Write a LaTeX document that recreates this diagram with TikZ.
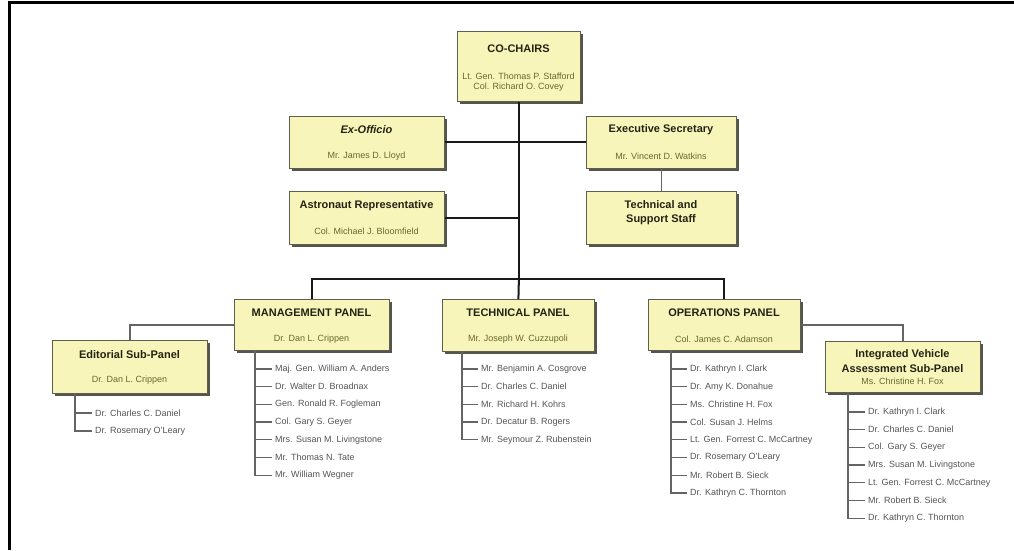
\documentclass[tikz,border=0pt]{standalone}
\usepackage{fontspec}
\setmainfont{Liberation Sans}
\usetikzlibrary{shadows}
\definecolor{boxfill}{RGB}{248,245,186}
\definecolor{boxline}{RGB}{95,95,80}
\definecolor{shadowc}{RGB}{85,85,75}
\definecolor{titlec}{RGB}{35,35,20}
\definecolor{namec}{RGB}{105,105,45}
\definecolor{itemc}{RGB}{85,85,85}
\definecolor{mainc}{RGB}{25,25,25}
\definecolor{subc}{RGB}{100,100,100}
\begin{document}
\begin{tikzpicture}[x=1pt,y=-1pt,
  box/.style={draw=boxline, line width=0.8pt, fill=boxfill, anchor=north west, inner sep=0pt,
    drop shadow={shadow xshift=2.5pt, shadow yshift=-2.5pt, fill=shadowc, opacity=1}},
  ttl/.style={font=\fontsize{11}{14}\selectfont\bfseries, text=titlec, align=center, inner sep=0pt},
  nm/.style={font=\fontsize{9}{11}\selectfont, text=namec, align=center, inner sep=0pt},
  item/.style={font=\fontsize{9}{11}\selectfont, text=itemc, anchor=west, inner sep=3pt},
  mainline/.style={draw=mainc, line width=2pt},
  subline/.style={draw=subc, line width=1.3pt}]
\useasboundingbox (0,0) rectangle (1014,550);
\fill[white] (0,0) rectangle (1014,550);
\draw[line width=3pt] (9,550) -- (9,2.5) -- (1014,2.5);

% boxes
\node[box, minimum width=123pt, minimum height=70pt] (cc) at (457,31) {};
\node[box, minimum width=155pt, minimum height=52pt] (eo) at (289,116) {};
\node[box, minimum width=150pt, minimum height=52pt] (es) at (586,116) {};
\node[box, minimum width=155pt, minimum height=53pt] (ar) at (289,191) {};
\node[box, minimum width=150pt, minimum height=53pt] (ts) at (586,191) {};
\node[box, minimum width=155pt, minimum height=51pt] (mp) at (234,299) {};
\node[box, minimum width=152pt, minimum height=52pt] (tp) at (442,299) {};
\node[box, minimum width=152pt, minimum height=51pt] (op) at (648,299) {};
\node[box, minimum width=155pt, minimum height=53pt] (ed) at (52,340) {};
\node[box, minimum width=155pt, minimum height=51pt] (iv) at (825,341) {};

% texts
\node[ttl] (cc-t) at (518.5,49) {CO-CHAIRS};
\node[nm] (cc-n1) at (518.5,76) {Lt. Gen. Thomas P. Stafford};
\node[nm] (cc-n2) at (518.5,87) {Col. Richard O. Covey};
\node[ttl] (eo-t) at (366.5,130) {\itshape Ex-Officio};
\node[nm] (eo-n) at (366.5,156) {Mr. James D. Lloyd};
\node[ttl] (es-t) at (661,130) {Executive Secretary};
\node[nm] (es-n) at (661,156) {Mr. Vincent D. Watkins};
\node[ttl] (ar-t) at (366.5,206) {Astronaut Representative};
\node[nm] (ar-n) at (366.5,231) {Col. Michael J. Bloomfield};
\node[ttl] (ts-t) at (661,213) {Technical and\\Support Staff};
\node[ttl] (mp-t) at (311.5,313) {MANAGEMENT PANEL};
\node[nm] (mp-n) at (311.5,339) {Dr. Dan L. Crippen};
\node[ttl] (tp-t) at (518,313) {TECHNICAL PANEL};
\node[nm] (tp-n) at (518,339) {Mr. Joseph W. Cuzzupoli};
\node[ttl] (op-t) at (724,313) {OPERATIONS PANEL};
\node[nm] (op-n) at (724,339) {Col. James C. Adamson};
\node[ttl] (ed-t) at (129.5,355) {Editorial Sub-Panel};
\node[nm] (ed-n) at (129.5,380) {Dr. Dan L. Crippen};
\node[ttl, font=\fontsize{11}{15}\selectfont\bfseries] (iv-t) at (902.5,361.5) {Integrated Vehicle\\Assessment Sub-Panel};
\node[nm] (iv-n) at (902.5,381.5) {Ms. Christine H. Fox};

% connectors
\coordinate (bus) at (cc.south |- 0,279);
\draw[mainline] (cc.south) -- (bus);
\draw[mainline] (mp.north) |- (bus);
\draw[mainline] (op.north) |- (bus);
\draw[mainline] (tp.north) -- (bus);
\draw[mainline] (eo.east) -- (es.west);
\draw[mainline] (ar.east) -- (ar.east -| cc.south);
\draw[subline] (es.south) -- (ts.north);
\draw[subline] (mp.west) -| (ed.north);
\draw[subline] (op.east) -| (iv.north);

% lists
\coordinate (ed-s) at (75,393);
\foreach \t [count=\i] in {Dr. Charles C. Daniel, Dr. Rosemary O'Leary} {
  \node[item] (ed-\i) at (92,{413+18*(\i-1)}) {\t};
  \draw[subline] (ed-s) |- (ed-\i.west);
}
\coordinate (mp-s) at (255,350);
\foreach \t [count=\i] in {Maj. Gen. William A. Anders, Dr. Walter D. Broadnax, Gen. Ronald R. Fogleman, Col. Gary S. Geyer, Mrs. Susan M. Livingstone, Mr. Thomas N. Tate, Mr. William Wegner} {
  \node[item] (mp-\i) at (272,{369+17.7*(\i-1)}) {\t};
  \draw[subline] (mp-s) |- (mp-\i.west);
}
\coordinate (tp-s) at (462,351);
\foreach \t [count=\i] in {Mr. Benjamin A. Cosgrove, Dr. Charles C. Daniel, Mr. Richard H. Kohrs, Dr. Decatur B. Rogers, Mr. Seymour Z. Rubenstein} {
  \node[item] (tp-\i) at (478,{369+17.7*(\i-1)}) {\t};
  \draw[subline] (tp-s) |- (tp-\i.west);
}
\coordinate (op-s) at (671,350);
\foreach \t [count=\i] in {Dr. Kathryn I. Clark, Dr. Amy K. Donahue, Ms. Christine H. Fox, Col. Susan J. Helms, Lt. Gen. Forrest C. McCartney, Dr. Rosemary O'Leary, Mr. Robert B. Sieck, Dr. Kathryn C. Thornton} {
  \node[item] (op-\i) at (687,{369+17.7*(\i-1)}) {\t};
  \draw[subline] (op-s) |- (op-\i.west);
}
\coordinate (iv-s) at (848,392);
\foreach \t [count=\i] in {Dr. Kathryn I. Clark, Dr. Charles C. Daniel, Col. Gary S. Geyer, Mrs. Susan M. Livingstone, Lt. Gen. Forrest C. McCartney, Mr. Robert B. Sieck, Dr. Kathryn C. Thornton} {
  \node[item] (iv-\i) at (865,{412+17.7*(\i-1)}) {\t};
  \draw[subline] (iv-s) |- (iv-\i.west);
}
\end{tikzpicture}
\end{document}
